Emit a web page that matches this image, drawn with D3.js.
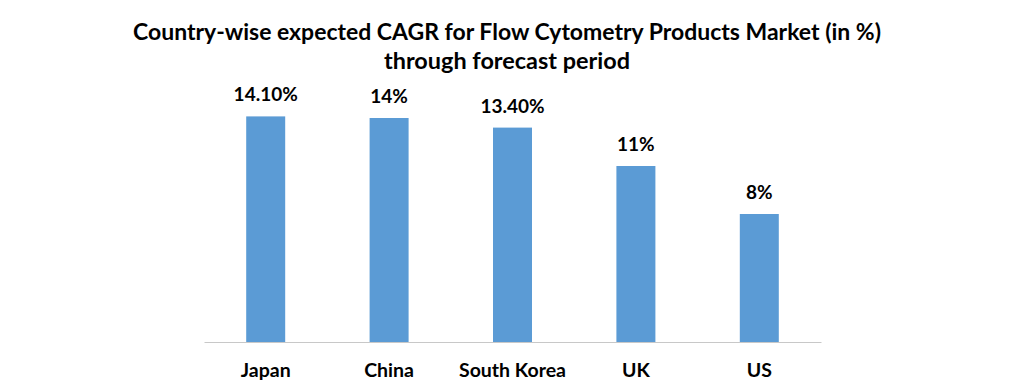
<!DOCTYPE html>
<html>
<head>
<meta charset="utf-8">
<script src="https://cdn.jsdelivr.net/npm/d3@7"></script>
<style>
  html, body { margin: 0; padding: 0; background: #fff; }
  svg { display: block; }
  text { font-family: Lato, "Open Sans", "DejaVu Sans", sans-serif; font-weight: bold; fill: #000; }
</style>
</head>
<body>
<svg id="chart" width="1015" height="386"></svg>
<script>
const categories = ["Japan", "China", "South Korea", "UK", "US"];
const values = [14.1, 14, 13.4, 11, 8];
const valueLabels = ["14.10%", "14%", "13.40%", "11%", "8%"];
const titleLines = ["Country-wise expected CAGR for Flow Cytometry Products Market (in %)", "through forecast period"];

const svg = d3.select("#chart");
const W = 1015, H = 386;
svg.append("rect").attr("width", W).attr("height", H).attr("fill", "#fff");

const x = d3.scaleBand().domain(categories).range([204, 821]).paddingInner(0.684).paddingOuter(0.342);
const y = d3.scaleLinear().domain([0, 16]).range([342, 86]);

// title
const titleWidths = [748, 246];
svg.selectAll("text.title").data(titleLines).enter().append("text")
  .attr("class", "title")
  .attr("x", 507).attr("y", (d, i) => 40 + i * 29)
  .attr("text-anchor", "middle")
  .style("font-size", "22px")
  .attr("textLength", (d, i) => titleWidths[i])
  .attr("lengthAdjust", "spacingAndGlyphs")
  .text(d => d);

// bars
svg.selectAll("rect.bar").data(values).enter().append("rect")
  .attr("class", "bar")
  .attr("x", (d, i) => x(categories[i]))
  .attr("width", x.bandwidth())
  .attr("y", d => y(d))
  .attr("height", d => y(0) - y(d))
  .attr("fill", "#5B9BD5");

// axis
const axis = svg.append("g").attr("transform", `translate(0,${y(0)})`)
  .call(d3.axisBottom(x).tickSize(0).tickPadding(0));
axis.select(".domain").attr("stroke", "#C8C8C8").attr("stroke-width", 1);
axis.selectAll(".tick text")
  .attr("y", 0).attr("dy", 0)
  .attr("transform", "translate(0,35)")
  .style("font-size", "19.5px")
  .style("font-family", 'Lato, "Open Sans", sans-serif')
  .style("font-weight", "bold")
  .attr("fill", "#000");

// value labels
svg.selectAll("text.val").data(values).enter().append("text")
  .attr("class", "val")
  .attr("x", (d, i) => x(categories[i]) + x.bandwidth() / 2)
  .attr("y", d => y(d) - 15)
  .attr("text-anchor", "middle")
  .style("font-size", "19px")
  .text((d, i) => valueLabels[i]);
</script>
</body>
</html>
